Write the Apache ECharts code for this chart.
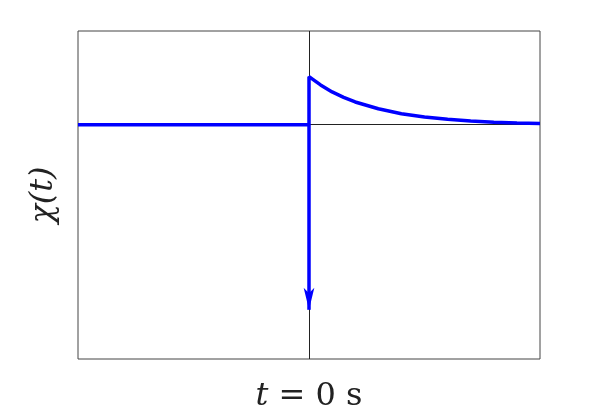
<!DOCTYPE html><html><head><meta charset="utf-8">
<script src="https://cdn.jsdelivr.net/npm/echarts@6/dist/echarts.min.js"></script>
<style>body{margin:0}#c{width:597px;height:420px}</style></head><body><div id="c"></div>
<script>
const tValues = [-1, 0, 0, 0.05, 0.1, 0.15, 0.2, 0.3, 0.4, 0.5, 0.6, 0.7, 0.8, 0.9, 1.0];
const chiValues = [0, 0, 0.205, 0.17, 0.14, 0.117, 0.097, 0.068, 0.047, 0.033, 0.023, 0.016, 0.011, 0.007, 0.005];
const deltaTip = -0.79;
const xLabel = '{i|t} = 0 s';
const yLabel = 'χ(t)';
const chart = echarts.init(document.getElementById('c'));
chart.setOption({
  animation:false,
  grid:{left:78,right:57,top:31,bottom:61,show:true,borderColor:'#444',borderWidth:1},
  xAxis:{type:'value',min:-1,max:1,axisLine:{show:false},axisTick:{show:false},axisLabel:{show:false},splitLine:{show:false},
    name:xLabel,nameLocation:'middle',nameGap:22,nameTextStyle:{fontFamily:'DejaVu Serif',fontSize:32,color:'#222',
      rich:{i:{fontFamily:'DejaVu Serif',fontStyle:'italic',fontSize:32,color:'#222'}}}},
  yAxis:{type:'value',min:-1,max:0.4,axisLine:{show:false},axisTick:{show:false},axisLabel:{show:false},splitLine:{show:false},
    name:yLabel,nameLocation:'middle',nameGap:18,nameRotate:90,nameTextStyle:{fontFamily:'DejaVu Serif',fontStyle:'italic',fontSize:32,color:'#222'}},
  series:[
    {type:'line',z:1,data:[],markLine:{silent:true,z:1,symbol:'none',label:{show:false},lineStyle:{color:'#222',width:1,type:'solid'},
      data:[{yAxis:0},{xAxis:0}]}},
    {type:'line',z:5,showSymbol:false,data:tValues.map((t,i)=>[t,chiValues[i]]),lineStyle:{color:'#0000ff',width:3.5},
      markLine:{silent:true,z:5,symbol:['none','arrow'],symbolSize:[8,22],label:{show:false},lineStyle:{color:'#0000ff',width:3.5,type:'solid'},
        data:[[{coord:[0,0]},{coord:[0,deltaTip]}]]}}
  ]
});
</script></body></html>
